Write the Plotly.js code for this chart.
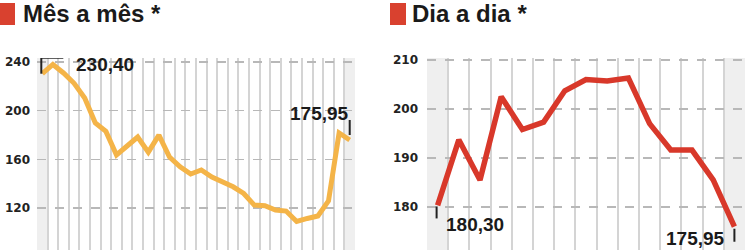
<!DOCTYPE html>
<html>
<head>
<meta charset="utf-8">
<script src="https://cdn.plot.ly/plotly-3.0.1.min.js"></script>
<style>
html,body{margin:0;padding:0;background:#fff;overflow:hidden;}
#chart{width:750px;height:250px;}
</style>
</head>
<body>
<div id="chart"></div>
<script>
// ---- data ----
const titleLeft = "Mês a mês *";
const titleRight = "Dia a dia *";
const monthValues = [230.4, 238, 231, 222.5, 210.5, 190, 183, 163.6, 171, 178.4,
  166, 180, 162, 154, 148, 151.3, 145.5, 141.4, 137.5, 132,
  122.5, 122, 118.4, 117.6, 109, 111.5, 113.5, 126, 181.7, 175.95];
const dayValues = [180.3, 193.7, 185.5, 202.5, 195.8, 197.3, 203.7, 206, 205.7, 206.3,
  197, 191.6, 191.6, 185.5, 175.95];
const leftTicks = [120, 160, 200, 240];
const rightTicks = [180, 190, 200, 210];

const monthX = monthValues.map((v, i) => i);
const dayX = dayValues.map((v, i) => i);

const W = 750, H = 250, T = 58;
const fmt = v => v.toFixed(2).replace('.', ',');
const py = p => (H - p) / (H - T); // pixel row -> paper y

const orange = '#F4B448';
const red = '#D8382A';
const tickFont = {family: 'DejaVu Sans, sans-serif', size: 12, color: '#222', weight: 'bold'};
const labelFont = {family: 'Liberation Sans, Arial, sans-serif', size: 19, color: '#1a1a1a', weight: 'bold'};
const titleFont = {family: 'Liberation Sans Narrow, Liberation Sans, Arial, sans-serif', size: 24, color: '#1a1a1a', weight: 'bold'};

function bounds(n) { const b = []; for (let i = 0; i <= n; i++) b.push(i - 0.5); return b; }

const traces = [
  {x: monthX, y: monthValues, xaxis: 'x', yaxis: 'y', type: 'scatter', mode: 'lines',
   line: {color: orange, width: 5, shape: 'linear'}, hoverinfo: 'skip'},
  {x: dayX, y: dayValues, xaxis: 'x2', yaxis: 'y2', type: 'scatter', mode: 'lines',
   line: {color: red, width: 5.5, shape: 'linear'}, hoverinfo: 'skip'}
];

const xAxisCommon = {
  tickmode: 'array', showticklabels: false, ticks: '', showgrid: true,
  gridcolor: '#d4d4d4', gridwidth: 2, zeroline: false, showline: false, fixedrange: true
};
const yAxisCommon = {
  showgrid: true, gridcolor: '#b8b8b8', gridwidth: 1.5, griddash: 'dash',
  zeroline: false, showline: false, ticks: '', tickfont: tickFont, automargin: false, fixedrange: true
};

const nM = monthValues.length, nD = dayValues.length;
const lastM = nM - 1, lastD = nD - 1;

function colShade(xref, x) {
  return {type: 'rect', xref: xref, yref: xref === 'x' ? 'y domain' : 'y2 domain',
    x0: x - 0.5, x1: x + 0.5, y0: 0, y1: 1, fillcolor: '#efefef', line: {width: 0}, layer: 'below'};
}
function tick(xref, yref, xa, ya, dx0, dx1, dy0, dy1) {
  return {type: 'line', xref: xref, yref: yref, xsizemode: 'pixel', ysizemode: 'pixel',
    xanchor: xa, yanchor: ya, x0: dx0, x1: dx1, y0: dy0, y1: dy1,
    line: {color: '#222', width: 2}, layer: 'above'};
}

const layout = {
  width: W, height: H,
  margin: {l: 0, r: 0, t: T, b: 0, pad: 0},
  paper_bgcolor: '#fff', plot_bgcolor: '#fff',
  showlegend: false,
  xaxis: Object.assign({}, xAxisCommon, {domain: [37 / W, 355 / W], range: [-0.5, nM - 0.5], tickvals: bounds(nM), anchor: 'y'}),
  yaxis: Object.assign({}, yAxisCommon, {domain: [0, 1], range: [85.6, 243.3], tickvals: leftTicks, ticklabelstandoff: 6, anchor: 'x'}),
  xaxis2: Object.assign({}, xAxisCommon, {domain: [427 / W, 745 / W], range: [-0.5, nD - 0.5], tickvals: bounds(nD), anchor: 'y2'}),
  yaxis2: Object.assign({}, yAxisCommon, {domain: [0, 1], range: [171.2, 210.4], tickvals: rightTicks, ticklabelstandoff: 8, anchor: 'x2'}),
  shapes: [
    colShade('x', 0), colShade('x', lastM),
    colShade('x2', 0), colShade('x2', lastD),
    // title squares
    {type: 'rect', xref: 'paper', yref: 'paper', x0: 0, x1: 15 / W, y0: py(25), y1: py(3), fillcolor: '#D9412F', line: {width: 0}},
    {type: 'rect', xref: 'paper', yref: 'paper', x0: 390 / W, x1: 406 / W, y0: py(25), y1: py(3), fillcolor: '#D9412F', line: {width: 0}},
    // label brackets
    tick('x', 'y', monthX[0], monthValues[0], -1, -1, 0, 16),
    tick('x', 'y', monthX[0], monthValues[0], -1, 21, 16, 16),
    tick('x', 'y', monthX[lastM], monthValues[lastM], 0, 0, 5, 20),
    tick('x2', 'y2', dayX[0], dayValues[0], -1, -1, -1, -13),
    tick('x2', 'y2', dayX[lastD], dayValues[lastD], 0, 0, -2, -15)
  ],
  annotations: [
    {xref: 'paper', yref: 'paper', x: 21 / W, y: py(14), xanchor: 'left', yanchor: 'middle',
     text: titleLeft, showarrow: false, font: titleFont},
    {xref: 'paper', yref: 'paper', x: 410 / W, y: py(14), xanchor: 'left', yanchor: 'middle',
     text: titleRight, showarrow: false, font: titleFont},
    {xref: 'x', yref: 'y', x: monthX[0], y: monthValues[0], xanchor: 'left', yanchor: 'middle',
     xshift: 32, yshift: 9, text: fmt(monthValues[0]), showarrow: false, font: labelFont},
    {xref: 'x', yref: 'y', x: monthX[lastM], y: monthValues[lastM], xanchor: 'right', yanchor: 'middle',
     xshift: 1, yshift: 27, text: fmt(monthValues[lastM]), showarrow: false, font: labelFont},
    {xref: 'x2', yref: 'y2', x: dayX[0], y: dayValues[0], xanchor: 'left', yanchor: 'middle',
     xshift: 6, yshift: -19, text: fmt(dayValues[0]), showarrow: false, font: labelFont},
    {xref: 'x2', yref: 'y2', x: dayX[lastD], y: dayValues[lastD], xanchor: 'right', yanchor: 'middle',
     xshift: -7, yshift: -12, text: fmt(dayValues[lastD]), showarrow: false, font: labelFont}
  ]
};

Plotly.newPlot('chart', traces, layout, {displayModeBar: false, staticPlot: true});
</script>
</body>
</html>
